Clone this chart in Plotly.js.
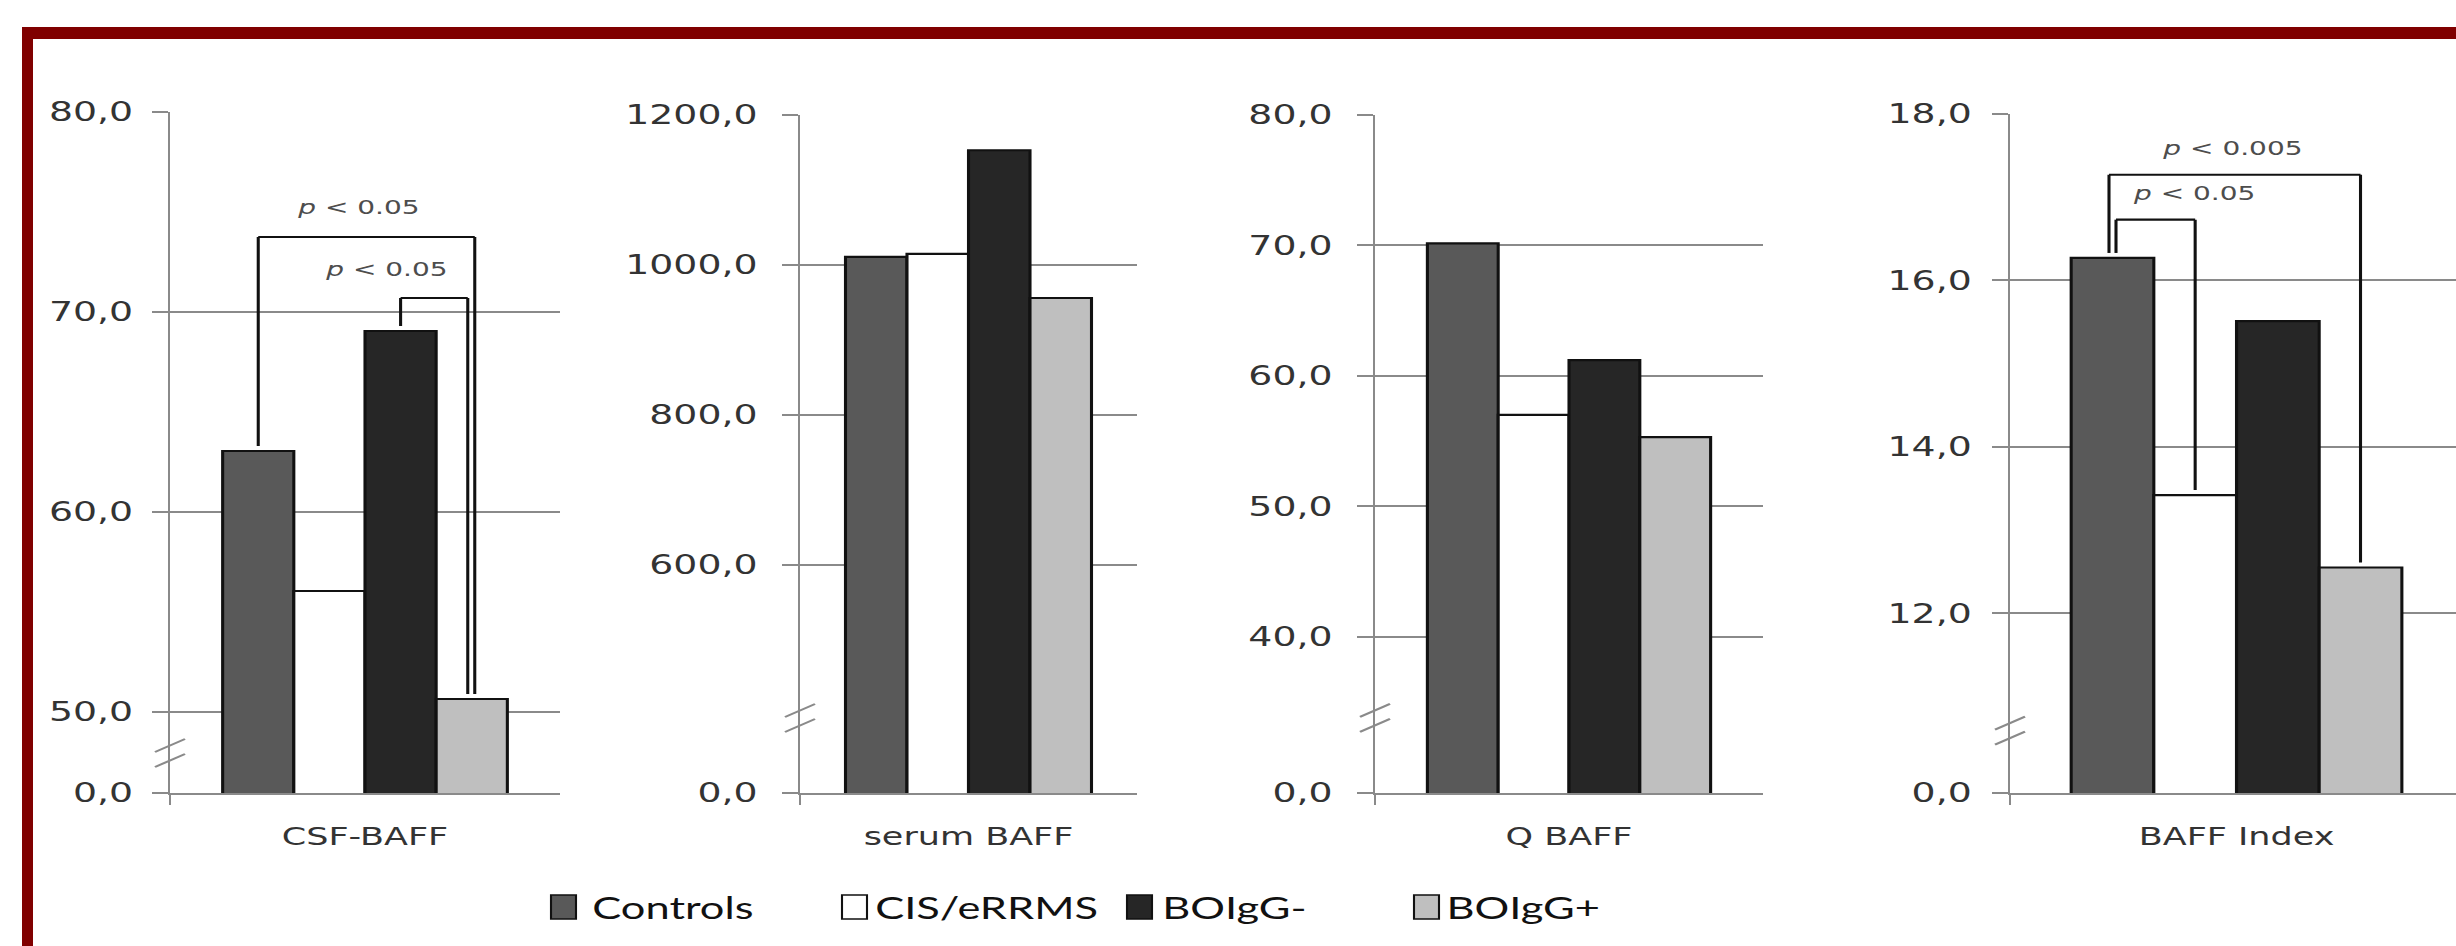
<!DOCTYPE html>
<html><head><meta charset="utf-8">
<script src="https://cdn.plot.ly/plotly-3.0.1.min.js"></script>
<style>
html,body{margin:0;padding:0;background:#fff;overflow:hidden;}
#chart{width:1754px;height:946px;transform:scaleX(1.400228);transform-origin:0 0;}
</style></head><body><div id="chart"></div>
<script>
// ---------------- data ----------------
const measures = ['CSF-BAFF', 'serum BAFF', 'Q BAFF', 'BAFF Index'];
const groups = ['Controls', 'CIS/eRRMS', 'BOIgG-', 'BOIgG+'];
const controls = [63.05, 1010.7, 70.15, 16.27];
const cisErrms = [56.05, 1014.7, 57.0, 13.42];
const boiggNeg = [69.05, 1153.0, 61.2, 15.51];
const boiggPos = [50.65, 956.0, 55.3, 12.55];
const ticksCsf = [0, 50, 60, 70, 80];
const ticksSerum = [0, 600, 800, 1000, 1200];
const ticksQ = [0, 40, 50, 60, 70, 80];
const ticksIndex = [0, 12, 14, 16, 18];
const pLabels = ['p < 0.05', 'p < 0.05', 'p < 0.005', 'p < 0.05'];

// ---------------- styling / geometry (reference pixels) ----------------
const REF_W = 2456, H = 946, LW = 1754, SX = REF_W / LW;
const seriesValues = [controls, cisErrms, boiggNeg, boiggPos];
const seriesColors = ['#595959', '#ffffff', '#262626', '#bfbfbf'];
const panelTicks = [ticksCsf, ticksSerum, ticksQ, ticksIndex];
const panels = [
  {x0: 170, x1: 560, top: 112, bottom: 793, base: 45.95, xMax: 0.5, brk: 47.95, stand: 8},
  {x0: 800, x1: 1137, top: 115, bottom: 793, base: 296, xMax: 0.5, brk: 396, stand: 12},
  {x0: 1375, x1: 1763, top: 115, bottom: 793, base: 28, xMax: 0.5, brk: 33.76, stand: 12},
  {x0: 2010, x1: 2456, top: 114, bottom: 793, base: 9.84, xMax: 0.4845, brk: 10.59, stand: 9}
];
const comparisons = [
  {panel: 0, a: 0, b: 3, level: 73.75, label: 0, textX: -0.018, textY: 75.25, dxA: 0, dxB: 3},
  {panel: 0, a: 2, b: 3, level: 70.7, label: 1, textX: 0.056, textY: 72.15, dxA: 0, dxB: -4},
  {panel: 3, a: 0, b: 3, level: 17.27, label: 2, textX: -0.01, textY: 17.59, dxA: -3.5, dxB: 0},
  {panel: 3, a: 0, b: 1, level: 16.73, label: 3, textX: -0.094, textY: 17.05, dxA: 3.5, dxB: 0}
];
const legendPos = {sq: [551, 842, 1127, 1414], text: [589, 872, 1159, 1444], sqW: 25, yTop: 895, yBot: 919, textY: 907};

// legend font: a narrow Calibri-like face if present, otherwise Lato
function fontInstalled(name) {
  const c = document.createElement('canvas').getContext('2d');
  c.font = '40px monospace';
  const a = c.measureText('CIS/eRRMS BOIgG').width;
  c.font = '40px "' + name + '", monospace';
  return c.measureText('CIS/eRRMS BOIgG').width !== a;
}
const legendFont = fontInstalled('Liberation Sans Narrow')
  ? {family: 'Liberation Sans Narrow', size: 32, color: '#111111'}
  : {family: 'Lato, Open Sans, sans-serif', size: 31, color: '#111111'};

const GRID = '#8a8a8a', TXT = '#333333';
const BARGAP = 0.27;
const barW = (1 - BARGAP) / 4;
const barCenter = g => -0.5 + BARGAP / 2 + (g + 0.5) * barW;
const px2paperX = x => x / REF_W;
const px2paperY = y => 1 - y / H;
const fmt = v => v.toFixed(1).replace('.', ',');

const traces = [];
const layout = {
  width: LW, height: H, margin: {l: 0, r: 0, t: 0, b: 0},
  paper_bgcolor: '#ffffff', plot_bgcolor: 'rgba(0,0,0,0)',
  barmode: 'group', bargap: BARGAP, bargroupgap: 0, showlegend: false,
  shapes: [], annotations: []
};

panels.forEach((p, i) => {
  const k = i + 1;
  const ticks = panelTicks[i];
  const top = Math.max(...ticks);
  p.ppu = (p.bottom - p.top) / (top - p.base);
  p.unit = (p.x1 - p.x0) / (p.xMax + 0.5);
  const yDom = [px2paperY(p.bottom), px2paperY(p.top)];
  const xDom = [px2paperX(p.x0), px2paperX(p.x1)];
  layout['xaxis' + k] = {
    domain: xDom, anchor: 'y' + k, type: 'category', range: [-0.5, p.xMax],
    ticks: 'outside', tickson: 'boundaries', ticklen: 10, tickwidth: 1.5, tickcolor: GRID,
    showline: true, linecolor: GRID, linewidth: 2, showgrid: false, zeroline: false,
    tickfont: {family: 'DejaVu Sans', size: 25, color: TXT}, ticklabelstandoff: 20, fixedrange: true
  };
  layout['yaxis' + k] = {
    domain: yDom, anchor: 'x' + k, range: [p.base, top],
    tickvals: ticks.map(v => v === 0 ? p.base : v), ticktext: ticks.map(fmt),
    ticks: 'outside', ticklen: 16 / SX, tickwidth: 2, tickcolor: GRID,
    showgrid: true, gridcolor: GRID, gridwidth: 2,
    showline: true, linecolor: GRID, linewidth: 1.5, zeroline: false,
    tickfont: {family: 'DejaVu Sans', size: 27, color: TXT}, ticklabelstandoff: p.stand, fixedrange: true
  };
  groups.forEach((g, gi) => {
    traces.push({
      type: 'bar', name: g, x: [measures[i]], y: [seriesValues[gi][i]],
      xaxis: 'x' + k, yaxis: 'y' + k,
      marker: {color: seriesColors[gi], line: {color: '#111111', width: 2.2}},
      hoverinfo: 'skip'
    });
  });
  // axis break marks
  const yc = p.bottom - (p.brk - p.base) * p.ppu;
  [-7.5, 7.5].forEach(off => {
    layout.shapes.push({
      type: 'line', xref: 'paper', yref: 'paper',
      x0: px2paperX(p.x0 - 15), y0: px2paperY(yc + off + 6.5),
      x1: px2paperX(p.x0 + 15), y1: px2paperY(yc + off - 6.5),
      line: {color: GRID, width: 2}
    });
  });
});

// significance brackets
comparisons.forEach(c => {
  const p = panels[c.panel], k = c.panel + 1;
  const gap = 5 / p.ppu;
  const xa = barCenter(c.a) + c.dxA / p.unit;
  const xb = barCenter(c.b) + c.dxB / p.unit;
  const ya = seriesValues[c.a][c.panel] + gap;
  const yb = seriesValues[c.b][c.panel] + gap;
  const ln = {color: '#111111', width: 2.2};
  const base = {type: 'line', xref: 'x' + k, yref: 'y' + k, line: ln};
  layout.shapes.push(Object.assign({}, base, {x0: xa, x1: xa, y0: ya, y1: c.level}));
  layout.shapes.push(Object.assign({}, base, {x0: xa, x1: xb, y0: c.level, y1: c.level}));
  layout.shapes.push(Object.assign({}, base, {x0: xb, x1: xb, y0: c.level, y1: yb}));
  layout.annotations.push({
    xref: 'x' + k, yref: 'y' + k, x: c.textX, y: c.textY, showarrow: false,
    text: pLabels[c.label].replace('p <', '<i>p</i> &lt;'),
    font: {family: 'DejaVu Sans', size: 20, color: '#4d4d4d'}, xanchor: 'center', yanchor: 'middle'
  });
});

// legend (manual)
groups.forEach((g, gi) => {
  const x = legendPos.sq[gi];
  layout.shapes.push({
    type: 'rect', xref: 'paper', yref: 'paper',
    x0: px2paperX(x), x1: px2paperX(x + legendPos.sqW),
    y0: px2paperY(legendPos.yBot), y1: px2paperY(legendPos.yTop),
    fillcolor: seriesColors[gi], line: {color: '#111111', width: 1.5}
  });
  layout.annotations.push({
    xref: 'paper', yref: 'paper', x: px2paperX(legendPos.text[gi]),
    y: px2paperY(legendPos.textY), xanchor: 'left', yanchor: 'middle', showarrow: false,
    text: g, font: legendFont
  });
});

// dark red frame (top and left edges visible, rest cropped)
layout.shapes.push({type: 'rect', xref: 'paper', yref: 'paper', layer: 'above',
  x0: px2paperX(22), x1: 1.05, y0: px2paperY(39), y1: px2paperY(27), fillcolor: '#800000', line: {width: 0}});
layout.shapes.push({type: 'rect', xref: 'paper', yref: 'paper', layer: 'above',
  x0: px2paperX(22), x1: px2paperX(33), y0: -0.05, y1: px2paperY(27), fillcolor: '#800000', line: {width: 0}});

Plotly.newPlot('chart', traces, layout, {staticPlot: true, displayModeBar: false});
</script></body></html>
